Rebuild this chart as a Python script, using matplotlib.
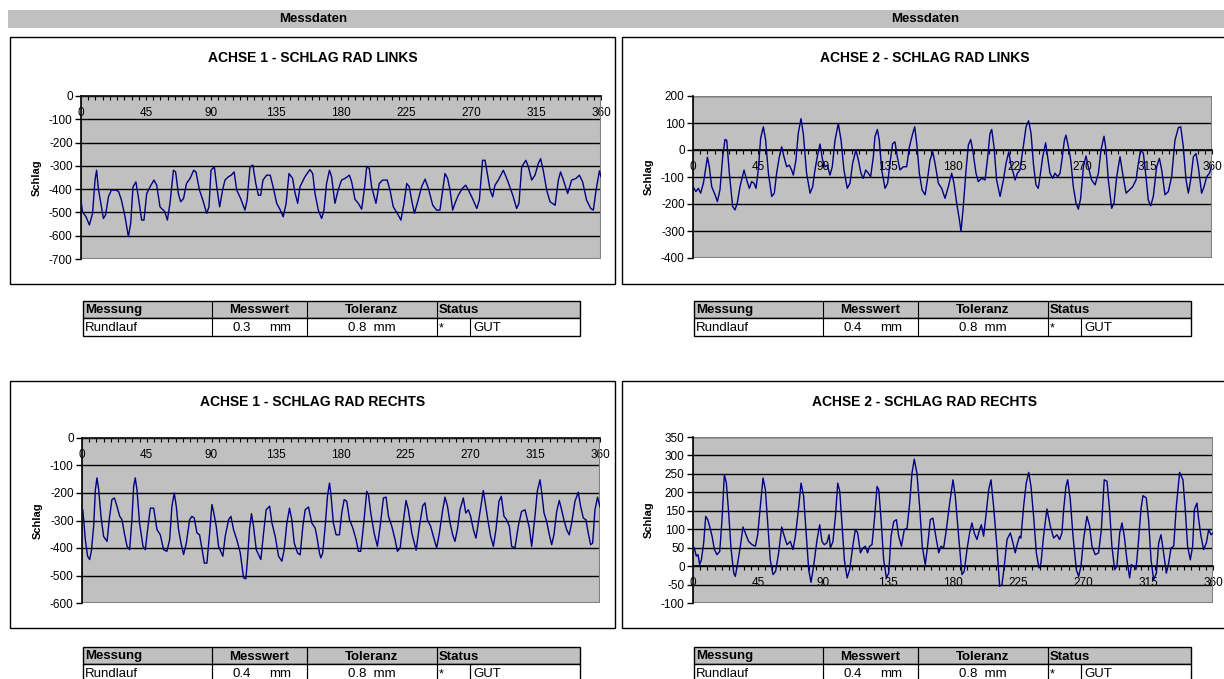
import matplotlib
matplotlib.use("Agg")
from matplotlib import pyplot as plt
from matplotlib.patches import Rectangle
from matplotlib.ticker import MultipleLocator

plt.rcParams['font.family'] = ['Liberation Sans', 'DejaVu Sans']
plt.rcParams['axes.unicode_minus'] = False

W, H = 1224, 679

HEADER = "Messdaten"
TITLES = ["ACHSE 1 - SCHLAG RAD LINKS", "ACHSE 2 - SCHLAG RAD LINKS",
          "ACHSE 1 - SCHLAG RAD RECHTS", "ACHSE 2 - SCHLAG RAD RECHTS"]
TABLE_HEAD = ["Messung", "Messwert", "Toleranz", "Status"]
MESSWERT = ["0.3", "0.4", "0.4", "0.4"]
TOLERANZ = "0.8"
STATUS = "GUT"

# Achse 1 links
deg_a1l = [0, 1, 3.5, 5.8, 8, 9.7, 10.8, 12, 15.5, 17, 19, 21, 24, 26, 28, 30.5, 32.8, 34.4, 36, 38,
           39.7, 42, 43.6, 45.5, 47.8, 50.5, 52.4, 54.7, 58, 59.8, 61.6, 64, 65.5, 67.4, 69, 71, 73,
           75.5, 78, 79.6, 82, 84, 87, 88.6, 90, 92.3, 94, 96, 98, 99.7, 102, 104, 106, 107.8, 110.5,
           113.5, 115, 117, 119, 121, 122.8, 124.4, 126, 128.5, 131, 133, 135.5, 138, 140, 142, 144,
           146.5, 148, 150, 151.6, 155, 158.5, 160.4, 162, 164.3, 166.6, 168.2, 170, 172, 173.5,
           175.8, 178, 180.4, 182.8, 185.8, 187.4, 189.7, 192, 194.3, 196.1, 197.8, 199.6, 201.2,
           204.2, 206.5, 208.8, 212, 213.9, 216.2, 219, 221.5, 223.6, 225.5, 227.3, 228.9, 230.8,
           232.8, 235.8, 238.2, 240.5, 243.5, 246.2, 248.5, 250.4, 252, 253.8, 255.5, 257.3, 258.9,
           261.2, 264, 266.3, 268.2, 270.5, 274, 275.8, 278, 279.7, 281.3, 283.2, 285, 286.6, 288.9,
           292.4, 295.2, 298.9, 301.6, 303.2, 305.1, 308, 309.7, 312, 314.3, 316.6, 318.2, 320,
           322.4, 324.7, 328.2, 330.5, 332, 334, 336.9, 339.7, 342.7, 345, 347.3, 350, 352.9, 354.7,
           356.6, 358.9, 360]
val_a1l = [-447, -497, -519, -554, -504, -361, -319, -397, -526, -511, -433, -404, -404, -410, -447,
           -519, -604, -547, -390, -369, -433, -533, -533, -419, -390, -361, -383, -476, -497, -533,
           -461, -319, -326, -419, -454, -440, -376, -354, -319, -326, -404, -440, -504, -476, -319,
           -304, -390, -476, -404, -361, -347, -340, -326, -404, -440, -490, -447, -304, -297, -376,
           -426, -426, -361, -340, -340, -390, -461, -490, -519, -461, -333, -354, -411, -461, -390,
           -347, -316, -333, -419, -490, -526, -490, -376, -319, -347, -461, -404, -361, -354, -340,
           -369, -444, -461, -486, -404, -304, -311, -390, -461, -376, -361, -361, -404, -476, -504,
           -533, -461, -376, -390, -447, -504, -461, -390, -357, -397, -469, -490, -490, -404, -333,
           -354, -404, -490, -461, -426, -397, -383, -404, -433, -483, -447, -276, -276, -333, -404,
           -433, -383, -361, -319, -361, -426, -483, -461, -304, -276, -304, -361, -340, -290, -269,
           -319, -404, -454, -469, -361, -326, -361, -419, -361, -354, -340, -369, -447, -483, -490,
           -404, -321, -347]

# Achse 2 links
deg_a2l = [0, 2, 3.7, 5.3, 7.2, 9, 10, 11.3, 13, 15.3, 16.9, 18.7, 20.6, 22.2, 23.4, 25.2, 27.5, 29.1,
           30.7, 32.6, 35.4, 37.2, 39.1, 40.7, 42.3, 43.7, 45.3, 46.9, 48.8, 50.4, 52.3, 54.6, 56.4,
           58, 59.9, 61.5, 63.1, 65, 66.8, 68.4, 69.6, 71.4, 73, 74.9, 76.5, 78.8, 81.2, 83, 84.6,
           86.2, 88.1, 89.9, 91.6, 93.2, 95, 96.6, 98.5, 100.8, 102.7, 104.7, 107, 108.9, 110.7, 113,
           114.7, 116.5, 118.1, 119.8, 121.6, 123.2, 125.1, 126.2, 127.9, 129.2, 130.9, 133.2, 135,
           136.6, 138.5, 140.1, 141.7, 143.6, 145.9, 148.2, 150.1, 152.4, 153.8, 155.2, 157, 158.9,
           161, 162.6, 164.4, 166.3, 167.9, 170.2, 172.5, 174.8, 177.1, 179.4, 181, 182.9, 184.8,
           185.9, 187.5, 189.4, 191, 192.6, 194, 196.3, 197.9, 200.2, 202.6, 204.2, 206, 207.2,
           208.8, 210.6, 213, 215.3, 217.1, 219, 220.6, 222.2, 223.4, 225, 226.8, 229.1, 231, 232.8,
           234.5, 236.1, 237.9, 239.5, 240.7, 242.6, 244.6, 246, 247.6, 249.5, 251.1, 253, 254.6,
           256.2, 257.6, 258.7, 260.4, 262, 263.8, 265.7, 267.3, 268.9, 270.8, 272.6, 274.2, 276.5,
           278.9, 281.2, 283, 285.1, 286.5, 288.1, 290.4, 292, 293.9, 296.2, 298, 300.4, 302.7, 305,
           307.3, 308.9, 310.5, 312.4, 314.2, 315.8, 317.5, 319.3, 321.6, 323.5, 325.1, 327.4,
           329.7, 332, 334.3, 336.7, 338.3, 340.1, 342, 343.6, 345.2, 347.1, 348.9, 350.5, 352.8,
           354.5, 356.3, 358.2, 360]
val_a2l = [-136, -154, -142, -160, -123, -62, -27, -62, -136, -166, -191, -148, -25, 39, 36, -86, -209,
           -222, -197, -136, -74, -111, -142, -117, -123, -142, -74, 43, 86, 36, -86, -172, -160, -86,
           -25, 12, -25, -62, -56, -74, -93, -37, 61, 116, 61, -86, -160, -136, -74, -25, 22, -37, -62,
           -56, -93, -62, 36, 98, 36, -74, -142, -123, -50, 0, -37, -86, -105, -74, -86, -99, -25, 49,
           76, 36, -74, -142, -123, -50, 24, 30, -25, -74, -62, -62, 12, 61, 86, 24, -86, -148, -166,
           -111, -37, -7, -50, -123, -142, -179, -136, -86, -123, -197, -259, -302, -209, -74, 18, 39,
           0, -86, -117, -105, -111, -37, 61, 76, 12, -111, -172, -111, -50, -7, -56, -86, -111, -86,
           -74, 12, 86, 108, 61, -50, -129, -142, -99, -25, 27, -25, -86, -105, -86, -99, -86, -25, 36,
           55, 12, -37, -136, -197, -219, -179, -62, -22, -62, -111, -129, -86, 0, 51, 0, -111, -216,
           -197, -99, -25, -86, -160, -148, -136, -111, -50, 0, -12, -99, -185, -207, -172, -62, -31,
           -74, -166, -154, -99, 36, 83, 86, 12, -111, -160, -111, -25, -13, -62, -160, -136, -99, -86,
           -56]

# Achse 1 rechts
deg_a1r = [0.5, 1.2, 2.3, 3.9, 5.3, 6.5, 8.1, 9.3, 10.4, 11.6, 13.2, 15, 17.4, 19.2, 20.8, 22.5, 24.3,
           26.2, 27.8, 29.4, 31.3, 33.1, 34.7, 35.9, 37, 38.2, 40, 42.4, 44, 45.6, 47.5, 49.8, 52.1,
           54.4, 56.7, 59, 60.9, 62.5, 64.1, 65.5, 67.1, 68.8, 70.6, 72.5, 74.8, 76.4, 78, 79.9, 81.7,
           83.3, 85, 86.8, 88.7, 90.3, 91.4, 93.3, 94.9, 97.9, 99.5, 101.9, 103.5, 105.3, 107.6, 110,
           112.3, 113.9, 115, 116.4, 117.8, 119.2, 121.1, 122.7, 124.3, 126.2, 128, 130.4, 132, 134.3,
           136.6, 138.9, 140.5, 142.4, 144.2, 145.8, 147.5, 149.8, 151.6, 153.5, 155.1, 157.4, 159.7,
           162, 163.2, 165, 166, 167.3, 169, 170.6, 172, 172.9, 174.7, 176.6, 178.9, 180.5, 182.2,
           184, 185.9, 188.2, 190.5, 192.1, 193.7, 195.6, 197.9, 199.1, 200.7, 203, 205.3, 207.2,
           209.5, 211.3, 213, 215.3, 217.6, 219.2, 221.1, 222.9, 225.2, 226.8, 229.2, 232.2, 234.5,
           236.8, 238.4, 240, 242.3, 244.2, 246.5, 248.4, 250.7, 252.3, 254, 255.8, 257.6, 259.2,
           260.9, 262.7, 265, 266.7, 268.5, 270.1, 272, 273.8, 275.4, 277.8, 278.9, 280.6, 282.4,
           284, 285.9, 287.7, 289.8, 291.4, 293.3, 295.1, 297, 298.6, 300.9, 303.2, 305.5, 307.9,
           309, 310.9, 312.5, 314.8, 316.4, 318.3, 319.4, 321.1, 322.9, 324.8, 326.4, 328, 329.9,
           331.7, 333.3, 334.9, 336.8, 338.6, 340.3, 342.6, 344.9, 346.5, 348.4, 350.2, 351.8, 353.5,
           354.9, 356.5, 358.3, 360]
val_a1r = [-261, -297, -370, -430, -442, -412, -321, -188, -145, -188, -285, -358, -376, -285, -224,
           -218, -248, -285, -297, -345, -394, -406, -297, -176, -145, -188, -309, -394, -406, -333,
           -255, -255, -333, -352, -406, -412, -370, -248, -200, -248, -333, -382, -424, -382, -297,
           -285, -291, -345, -352, -400, -455, -455, -345, -242, -267, -321, -394, -430, -358, -297,
           -285, -333, -370, -418, -509, -512, -442, -333, -275, -321, -406, -424, -442, -345, -261,
           -248, -309, -358, -430, -448, -406, -309, -255, -297, -382, -418, -425, -321, -261, -251,
           -309, -327, -358, -418, -436, -418, -321, -212, -164, -200, -309, -352, -352, -273, -224,
           -230, -297, -327, -370, -412, -412, -321, -194, -206, -273, -345, -394, -321, -218, -215,
           -285, -321, -370, -412, -400, -321, -227, -261, -345, -408, -321, -246, -236, -297, -321,
           -358, -400, -345, -261, -215, -248, -309, -352, -376, -333, -261, -218, -273, -261, -285,
           -333, -364, -309, -224, -191, -248, -309, -358, -394, -333, -230, -212, -285, -297, -321,
           -394, -400, -321, -267, -261, -285, -327, -394, -285, -194, -152, -194, -273, -303, -352,
           -388, -352, -267, -227, -261, -297, -333, -352, -309, -230, -197, -248, -291, -297, -345,
           -388, -382, -261, -215, -251]

# Achse 2 rechts
deg_a2r = [0, 0.9, 2.3, 3.5, 4.6, 5.8, 7.4, 8.8, 10.2, 11.5, 13.2, 14.8, 16.6, 18.5, 20.1, 21.7, 23.1,
           24.7, 26.3, 28.2, 29.3, 30.9, 32.8, 34.6, 36.2, 38.5, 40.9, 43.2, 44.8, 46.6, 48.5, 50.1,
           51.7, 53.5, 55.4, 57.2, 59.3, 61.4, 63.2, 65.1, 67.4, 69.2, 70.9, 73.2, 74.8, 76.6, 78.5,
           80.1, 81.7, 83.5, 85.9, 87.7, 89.3, 90.9, 92.8, 94.2, 95.1, 96.9, 98.6, 100.2, 101.6,
           103.2, 104.8, 106.7, 108.5, 110.6, 112.4, 114, 115.9, 117.7, 119.3, 120.9, 122.3, 123.9,
           125.6, 127.4, 128.6, 130.2, 132, 133.9, 135.5, 137.1, 139, 140.8, 142.4, 144.3, 146.3,
           148.2, 150, 151.6, 153.2, 155, 156.9, 158.7, 160.8, 162.4, 164.3, 166.1, 167.7, 170.1,
           171.7, 173.5, 175.4, 177.7, 180, 181.6, 183.9, 186.2, 187.8, 189.7, 191.5, 193.1, 194.7,
           196.6, 198.4, 199.6, 201.2, 203, 204.7, 206.3, 208.1, 210.4, 212.3, 213.9, 215.5, 217.4,
           219.7, 221.5, 223.1, 224.7, 226.1, 227, 228.9, 230.7, 232.4, 234, 235.8, 237.7, 239.5,
           240.9, 242.7, 245, 247.4, 249.7, 252, 253.8, 255.4, 256.6, 258.2, 259.4, 261.2, 263.1,
           265.4, 267, 268.6, 270.4, 272.7, 274.6, 276.2, 278.5, 280.8, 282.7, 284.7, 286.6, 288.4,
           290, 291.9, 293.5, 295.4, 297, 298.6, 300.4, 302.3, 303.5, 305.1, 306.7, 308.5, 310.1,
           311.5, 313.8, 315.4, 317.1, 318.9, 320.8, 322.4, 324, 325.8, 327.7, 329.3, 330.9, 332.8,
           334.6, 336.9, 339.2, 340.8, 342.4, 344.3, 345.9, 347.1, 348.9, 350.1, 351.7, 353.5, 355.4,
           357, 358.6, 360]
val_a2r = [54, 49, 27, 31, 4, 17, 63, 135, 126, 108, 81, 45, 31, 40, 126, 248, 225, 144, 49, -19, -28,
           8, 54, 106, 90, 67, 58, 54, 85, 162, 239, 207, 117, 17, -23, -14, 36, 106, 81, 58, 67, 45,
           81, 162, 225, 189, 81, -10, -44, 0, 72, 112, 67, 58, 64, 85, 49, 67, 135, 225, 203, 108, 17,
           -32, -9, 54, 99, 90, 36, 49, 54, 36, 54, 58, 126, 216, 207, 126, 17, -32, -19, 81, 121, 126,
           81, 54, 99, 103, 171, 252, 290, 252, 162, 54, 4, 54, 126, 130, 90, 36, 54, 49, 99, 171, 234,
           189, 81, -23, -14, 45, 90, 117, 90, 72, 99, 112, 81, 144, 207, 234, 162, 54, -55, -50, 0,
           72, 90, 63, 36, 63, 81, 76, 162, 225, 254, 216, 135, 36, -5, 8, 81, 155, 108, 76, 85, 72,
           90, 153, 216, 234, 180, 81, -10, -28, 0, 72, 135, 108, 54, 31, 36, 99, 234, 230, 153, 54,
           -10, 0, 90, 117, 81, 17, -32, 4, 0, -9, 72, 153, 191, 185, 126, 17, -37, -19, 63, 85, 36,
           -19, 8, 49, 54, 162, 254, 234, 153, 54, 17, 54, 153, 171, 126, 81, 45, 63, 99, 85, 90]

X_TICKS = [0, 45, 90, 135, 180, 225, 270, 315, 360]

# chart box, plot area (pixels), y range, y step, data
charts = [
    dict(box=(10, 37, 605, 247), plot=(81, 96, 520, 163), ylim=(-700, 0), step=100,
         x=deg_a1l, y=val_a1l, table=(83, 301)),
    dict(box=(622, 37, 610, 247), plot=(693, 96, 519, 162), ylim=(-400, 200), step=100,
         x=deg_a2l, y=val_a2l, table=(694, 301)),
    dict(box=(10, 381, 605, 247), plot=(82, 438, 518, 165), ylim=(-600, 0), step=100,
         x=deg_a1r, y=val_a1r, table=(83, 647)),
    dict(box=(622, 381, 610, 247), plot=(693, 437, 520, 166), ylim=(-100, 350), step=50,
         x=deg_a2r, y=val_a2r, table=(694, 647)),
]


def fr(x, y, w, h):
    # pixel box (top-left origin) -> figure fraction
    return [x / W, 1 - (y + h) / H, w / W, h / H]


def rect(fig, x, y, w, h, **kw):
    kw.setdefault('zorder', 0.5)
    r = Rectangle(fr(x, y, w, h)[:2], w / W, h / H, transform=fig.transFigure, **kw)
    fig.add_artist(r)
    return r


def ftext(fig, x, y, s, **kw):
    fig.text(x / W, 1 - y / H, s, **kw)


def draw_table(fig, x0, y0, value):
    cols = [x0, x0 + 129, x0 + 224, x0 + 354, x0 + 497]
    hh, rh = 17, 18
    rect(fig, x0, y0, cols[-1] - x0, hh, facecolor='#c0c0c0', edgecolor='black', lw=1)
    rect(fig, x0, y0 + hh, cols[-1] - x0, rh, facecolor='white', edgecolor='black', lw=1)
    for c in cols[1:-1]:
        rect(fig, c, y0, 0, hh + rh, fill=False, edgecolor='black', lw=0.8)
    rect(fig, cols[3] + 33, y0 + hh, 0, rh, fill=False, edgecolor='black', lw=0.8)
    ym = y0 + hh / 2 + 1
    ftext(fig, x0 + 2, ym, TABLE_HEAD[0], fontsize=9.5, fontweight='bold', va='center')
    ftext(fig, (cols[1] + cols[2]) / 2, ym, TABLE_HEAD[1], fontsize=9.5, fontweight='bold',
          va='center', ha='center')
    ftext(fig, (cols[2] + cols[3]) / 2, ym, TABLE_HEAD[2], fontsize=9.5, fontweight='bold',
          va='center', ha='center')
    ftext(fig, cols[3] + 2, ym, TABLE_HEAD[3], fontsize=9.5, fontweight='bold', va='center')
    yd = y0 + hh + rh / 2 + 1
    ftext(fig, x0 + 2, yd, "Rundlauf", fontsize=9.5, va='center')
    ftext(fig, cols[1] + 30, yd, value, fontsize=9.5, va='center', ha='center')
    ftext(fig, cols[1] + 68, yd, "mm", fontsize=9.5, va='center', ha='center')
    ftext(fig, (cols[2] + cols[3]) / 2, yd, TOLERANZ + "  mm", fontsize=9.5, va='center',
          ha='center')
    ftext(fig, cols[3] + 2, yd, "*", fontsize=9, va='center')
    ftext(fig, cols[3] + 36, yd, STATUS, fontsize=9.5, va='center')


fig = plt.figure(figsize=(W / 100, H / 100), dpi=100)

# header bar
rect(fig, 8, 10, 1216, 18, facecolor='#c0c0c0', edgecolor='none')
for cx in (313, 925):
    ftext(fig, cx, 19, HEADER, fontsize=9.5, fontweight='bold', ha='center', va='center')

for i, c in enumerate(charts):
    bx, by, bw, bh = c['box']
    rect(fig, bx, by, bw, bh, facecolor='white', edgecolor='black', lw=1, zorder=0.2)
    ftext(fig, bx + 303, by + 21, TITLES[i], fontsize=10, fontweight='bold', ha='center',
          va='center')
    px, py, pw, ph = c['plot']
    ftext(fig, px - 44, py + ph / 2, "Schlag", fontsize=8, fontweight='bold', rotation=90,
          ha='center', va='center')

    ax = fig.add_axes(fr(px, py, pw, ph))
    ax.set_zorder(2)
    ax.set_facecolor('#c0c0c0')
    ax.plot(c['x'], c['y'], color='#000080', lw=1, zorder=3)
    ax.set_xlim(0, 360)
    ax.set_ylim(*c['ylim'])

    ax.yaxis.set_major_locator(MultipleLocator(c['step']))
    ax.yaxis.grid(True, color='black', lw=1)
    ax.set_axisbelow(True)

    ax.spines['bottom'].set_position(('data', 0))
    ax.spines['bottom'].set_color('black')
    ax.spines['bottom'].set_linewidth(1.2)
    ax.spines['bottom'].set_zorder(2.5)
    ax.spines['top'].set_visible(False)
    ax.spines['right'].set_visible(False)
    ax.spines['left'].set_linewidth(1.2)
    ax.add_patch(Rectangle((0, 0), 1, 1, transform=ax.transAxes, fill=False,
                           edgecolor='#808080', lw=1.5, zorder=1.5))

    ax.set_xticks(X_TICKS)
    ax.set_xticklabels([str(t) for t in X_TICKS])
    ax.xaxis.set_minor_locator(MultipleLocator(5))
    ax.tick_params(axis='x', which='both', direction='out', length=3, width=0.8,
                   labelsize=8.5, pad=5, colors='black')
    ax.tick_params(axis='y', direction='out', length=4, width=1, labelsize=8.5, pad=2)

    draw_table(fig, c['table'][0], c['table'][1], MESSWERT[i])

fig.savefig("out.png", dpi=100)
